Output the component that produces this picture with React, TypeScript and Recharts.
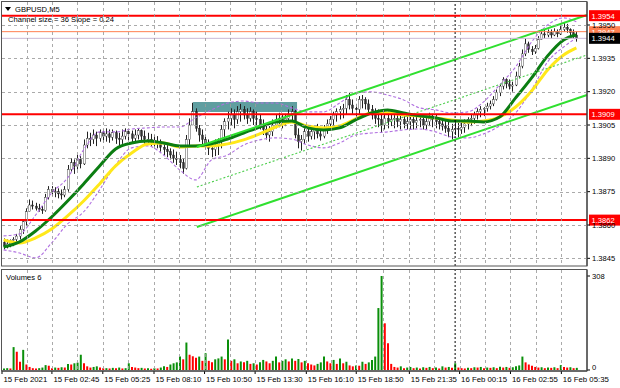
import React from 'react';
import {
  Bar,
  Cell,
  ComposedChart,
  Line,
  ReferenceArea,
  ReferenceLine,
  XAxis,
  YAxis,
} from 'recharts';

const FONT = "'Liberation Sans', Arial, sans-serif";

// GBPUSD M5, one entry per two M5 bars (10 minutes), 15 Feb 00:00 -> 16 Feb 06:00
const FIRST_OPEN = 1.3852;
const HIGHS = [
  1.3854, 1.38535, 1.38535, 1.38545, 1.3856, 1.38595, 1.38625, 1.38675, 1.38715, 1.3871, 1.387, 1.38695, 1.38685, 1.3874, 1.38775, 1.38775,
  1.3877, 1.38765, 1.3876, 1.38775, 1.3887, 1.389, 1.38895, 1.38915, 1.3891, 1.38985, 1.3902, 1.39015, 1.3903, 1.3902, 1.3903, 1.3903,
  1.39035, 1.3903, 1.3903, 1.39025, 1.39015, 1.3903, 1.39035, 1.3903, 1.39025, 1.3903, 1.39035, 1.3903, 1.39025, 1.39015, 1.3901, 1.39005,
  1.39, 1.38985, 1.3897, 1.3896, 1.38945, 1.3894, 1.3893, 1.38915, 1.389, 1.39005, 1.3908, 1.3915, 1.39125, 1.3905, 1.3903, 1.39005,
  1.38985, 1.38975, 1.38985, 1.3899, 1.3905, 1.3908, 1.3911, 1.39125, 1.3912, 1.39135, 1.39145, 1.39135, 1.39125, 1.3913, 1.3912, 1.3911,
  1.39095, 1.39075, 1.39055, 1.39045, 1.39075, 1.39095, 1.39105, 1.39095, 1.391, 1.3912, 1.39135, 1.3912, 1.39035, 1.39005, 1.39035, 1.39045,
  1.39035, 1.39045, 1.39055, 1.3904, 1.3905, 1.39075, 1.3909, 1.3911, 1.39125, 1.39135, 1.39145, 1.39185, 1.39195, 1.39165, 1.39145, 1.3918,
  1.39185, 1.39175, 1.39165, 1.3914, 1.39125, 1.3912, 1.3911, 1.3912, 1.3911, 1.3912, 1.39105, 1.3911, 1.391, 1.39105, 1.39095, 1.391,
  1.39095, 1.3909, 1.391, 1.3909, 1.39085, 1.39105, 1.391, 1.39095, 1.39085, 1.3908, 1.39075, 1.39065, 1.39055, 1.39075, 1.3906, 1.39065,
  1.39075, 1.39085, 1.391, 1.3911, 1.39125, 1.39135, 1.3913, 1.3915, 1.3916, 1.3918, 1.3921, 1.39235, 1.39265, 1.3926, 1.39255, 1.39245,
  1.3929, 1.3933, 1.3939, 1.3944, 1.39425, 1.39405, 1.3941, 1.3945, 1.3948, 1.3948, 1.3948, 1.3948, 1.39485, 1.3948, 1.39495, 1.3951,
  1.39505, 1.39485, 1.3948, 1.3947,
];
const LOWS = [
  1.3849, 1.38495, 1.385, 1.38505, 1.38515, 1.38535, 1.3856, 1.38595, 1.3866, 1.3867, 1.38665, 1.3866, 1.3865, 1.3866, 1.38715, 1.3873,
  1.38725, 1.3872, 1.38715, 1.38725, 1.3875, 1.3884, 1.3883, 1.3885, 1.38855, 1.3887, 1.38945, 1.38955, 1.38965, 1.38955, 1.38975, 1.3897,
  1.38975, 1.3897, 1.3898, 1.38965, 1.3895, 1.38965, 1.38985, 1.3898, 1.3897, 1.38975, 1.38985, 1.38975, 1.38965, 1.3896, 1.38955, 1.3895,
  1.38945, 1.3893, 1.38915, 1.38905, 1.38895, 1.3888, 1.3887, 1.38855, 1.3883, 1.3885, 1.3896, 1.3905, 1.3902, 1.38975, 1.3896, 1.3894,
  1.38915, 1.38905, 1.3891, 1.38915, 1.38945, 1.38985, 1.3903, 1.3905, 1.39035, 1.39055, 1.39065, 1.39075, 1.39055, 1.39065, 1.3905, 1.3904,
  1.3903, 1.39005, 1.38985, 1.38975, 1.39, 1.39035, 1.3904, 1.39035, 1.39045, 1.39055, 1.39065, 1.3899, 1.38945, 1.38935, 1.38965, 1.38975,
  1.38985, 1.38985, 1.3899, 1.3898, 1.3899, 1.3901, 1.3903, 1.39045, 1.39065, 1.39075, 1.3908, 1.39095, 1.3912, 1.391, 1.39085, 1.391,
  1.39125, 1.3912, 1.391, 1.39075, 1.39055, 1.3904, 1.39015, 1.3903, 1.39035, 1.39045, 1.39035, 1.3904, 1.3903, 1.39035, 1.3903, 1.3903,
  1.3903, 1.39035, 1.3904, 1.3903, 1.3903, 1.39045, 1.3904, 1.39035, 1.3903, 1.39025, 1.39015, 1.38995, 1.38985, 1.39005, 1.38995, 1.3901,
  1.39015, 1.3903, 1.39045, 1.39055, 1.39075, 1.39085, 1.3909, 1.3911, 1.3912, 1.39135, 1.3916, 1.3918, 1.3921, 1.39215, 1.3921, 1.392,
  1.39225, 1.3926, 1.39305, 1.3936, 1.39375, 1.39365, 1.3937, 1.3939, 1.39435, 1.3944, 1.39445, 1.3944, 1.3945, 1.39445, 1.39455, 1.3947,
  1.39465, 1.3945, 1.3944, 1.39425,
];
const CLOSES = [
  1.38505, 1.38515, 1.3853, 1.38535, 1.3855, 1.3858, 1.38615, 1.3866, 1.3869, 1.38685, 1.38675, 1.3867, 1.38665, 1.38725, 1.3876, 1.3875,
  1.3875, 1.3874, 1.38735, 1.3876, 1.3885, 1.3888, 1.38865, 1.38895, 1.38875, 1.3896, 1.3899, 1.38985, 1.39005, 1.3899, 1.39015, 1.39,
  1.3901, 1.38995, 1.39015, 1.3899, 1.38985, 1.39, 1.3902, 1.3901, 1.3899, 1.39005, 1.39025, 1.39, 1.38985, 1.38985, 1.3898, 1.3897,
  1.38975, 1.3895, 1.3894, 1.3893, 1.38915, 1.389, 1.38895, 1.3888, 1.38855, 1.38985, 1.3905, 1.3911, 1.39035, 1.39005, 1.38985, 1.3896,
  1.38945, 1.3894, 1.3896, 1.38975, 1.3903, 1.39065, 1.3908, 1.39095, 1.39075, 1.3911, 1.3912, 1.39095, 1.3908, 1.3911, 1.3908, 1.39075,
  1.3905, 1.3903, 1.39005, 1.3902, 1.3905, 1.39075, 1.3908, 1.39065, 1.3908, 1.391, 1.3911, 1.39005, 1.38975, 1.38985, 1.3902, 1.39,
  1.3902, 1.3903, 1.3901, 1.39, 1.39035, 1.39055, 1.39075, 1.39095, 1.3911, 1.3912, 1.39125, 1.39165, 1.3914, 1.39125, 1.3912, 1.39165,
  1.39165, 1.39145, 1.3912, 1.39095, 1.3908, 1.39075, 1.3905, 1.3908, 1.39065, 1.39075, 1.3908, 1.39065, 1.39075, 1.39055, 1.39065, 1.39075,
  1.3906, 1.3907, 1.39075, 1.3905, 1.39065, 1.3908, 1.39075, 1.39065, 1.39055, 1.39045, 1.39035, 1.3902, 1.3903, 1.39035, 1.3903, 1.3904,
  1.39055, 1.39075, 1.3908, 1.39095, 1.3911, 1.3912, 1.39125, 1.39135, 1.39145, 1.39165, 1.39195, 1.39225, 1.39255, 1.39235, 1.39225, 1.3923,
  1.3927, 1.39315, 1.3937, 1.39415, 1.3939, 1.3938, 1.39395, 1.39435, 1.3946, 1.39455, 1.39465, 1.39455, 1.3947, 1.3946, 1.3948, 1.3949,
  1.3948, 1.39465, 1.39455, 1.3944,
];
const VOLUMES = [
  5, 6, 5, 75, 60, 27, 66, 18, 10, 6, 5, 6, 8, 16, 14, 6,
  8, 7, 9, 8, 20, 18, 22, 24, 50, 22, 12, 8, 10, 12, 8, 6,
  6, 5, 7, 6, 8, 5, 6, 22, 10, 8, 6, 7, 5, 6, 4, 6,
  5, 8, 12, 10, 18, 22, 25, 44, 35, 90, 50, 45, 40, 44, 30, 55,
  30, 25, 35, 38, 44, 35, 100, 30, 35, 22, 28, 25, 30, 20, 22, 18,
  25, 33, 28, 22, 30, 44, 25, 30, 35, 28, 38, 30, 36, 25, 30, 22,
  18, 15, 20, 25, 44, 28, 22, 33, 20, 38, 22, 27, 15, 12, 15, 14,
  27, 20, 25, 33, 44, 203, 308, 153, 88, 20, 10, 8, 12, 6, 8, 10,
  6, 8, 5, 9, 7, 10, 6, 8, 5, 12, 8, 10, 7, 22, 8, 6,
  5, 7, 6, 9, 8, 10, 6, 8, 7, 9, 6, 11, 8, 10, 7, 9,
  12, 15, 44, 25, 18, 14, 10, 8, 9, 6, 8, 7, 9, 6, 16, 10,
  8, 9, 6, 7,
];

// indicator readings, taken every 5th bar
const MA_BARS = [0, 5, 10, 15, 20, 25, 30, 35, 40, 45, 50, 55, 60, 65, 70, 75, 80, 85, 90, 95, 100, 105, 110, 115, 120, 125, 130, 135, 140, 145, 150, 155, 160, 165, 170, 175, 179];
const MA_FAST = [
  1.38501, 1.38524, 1.38573, 1.38636, 1.38708, 1.38785, 1.38866, 1.38942, 1.38969, 1.38978, 1.38969, 1.38956, 1.38956, 1.38965, 1.38987, 1.39014,
  1.39041, 1.39064, 1.39068, 1.39037, 1.39028, 1.39037, 1.39073, 1.39104, 1.39118, 1.39104, 1.39091, 1.39082, 1.39068, 1.39068, 1.39064, 1.39086,
  1.39172, 1.39262, 1.39361, 1.39433, 1.39455,
];
const MA_SLOW = [
  1.38533, 1.38519, 1.38542, 1.38582, 1.38641, 1.38708, 1.38785, 1.38866, 1.38924, 1.38965, 1.38969, 1.38951, 1.38956, 1.38956, 1.38965, 1.38983,
  1.3901, 1.39041, 1.39064, 1.39046, 1.39037, 1.39046, 1.39077, 1.39104, 1.39104, 1.39095, 1.39091, 1.39082, 1.39073, 1.39064, 1.39068, 1.39086,
  1.39131, 1.39203, 1.39298, 1.39365, 1.39397,
];
const ENV_UPPER = [
  1.38551, 1.3856, 1.38645, 1.38744, 1.38812, 1.38938, 1.39019, 1.39019, 1.39032, 1.39037, 1.39041, 1.39041, 1.39082, 1.39118, 1.39149, 1.39158,
  1.39149, 1.39149, 1.39127, 1.39109, 1.39109, 1.39149, 1.39194, 1.39199, 1.39185, 1.39163, 1.39127, 1.39118, 1.39104, 1.39109, 1.39154, 1.3923,
  1.39311, 1.39424, 1.395, 1.39532, 1.39514,
];
const ENV_LOWER = [
  1.38488, 1.38474, 1.38452, 1.38519, 1.38605, 1.38659, 1.38758, 1.3887, 1.38947, 1.38956, 1.38915, 1.38848, 1.38803, 1.38893, 1.38915, 1.3896,
  1.38983, 1.38992, 1.38987, 1.3896, 1.38947, 1.38969, 1.39005, 1.39014, 1.39019, 1.39028, 1.39032, 1.39019, 1.38996, 1.38992, 1.3901, 1.39046,
  1.39104, 1.39208, 1.39334, 1.39401, 1.39442,
];

// regression channel (start bar, end bar) and its three lines (start price, end price)
const CHANNEL_BARS = [60.4, 182.3];
const CHANNEL_UPPER = [1.38951, 1.39545];
const CHANNEL_MID = [1.38771, 1.39365];
const CHANNEL_LOWER = [1.38591, 1.39185];

// consolidation box: bars and price range
const BOX_BARS = [59.2, 91.7];
const BOX_PRICES = [1.39108, 1.39154];

const LEVELS = [1.39542, 1.39098, 1.38622];
const ASK = 1.3947;
const BID = 1.3944;
const DAY_START_BAR = 141.1;

const PRICE_DOMAIN = [1.384155, 1.396035];
const PRICE_TICKS = [1.395, 1.3935, 1.392, 1.3905, 1.389, 1.3875, 1.386, 1.3845];
const VOLUME_DOMAIN = [-3.3, 327.7];
const VOLUME_TICKS = [0, 308];
const BAR_DOMAIN = [-0.5, 182.3125];

const TIME_TICK_BARS = [-0.5, 15.1, 31, 47, 62.8, 78.6, 94.6, 110.2, 126.8, 142.5, 158.4, 174.3];
const TIME_LABELS = [
  '15 Feb 2021', '15 Feb 02:45', '15 Feb 05:25', '15 Feb 08:10', '15 Feb 10:50', '15 Feb 13:30',
  '15 Feb 16:10', '15 Feb 18:50', '15 Feb 21:35', '16 Feb 00:15', '16 Feb 02:55', '16 Feb 05:35',
];

const GREEN = '#0a8f0a';
const RED = '#ff0000';
const GRID = '#9c9c9c';

// plot geometry shared by both panes
const PLOT_LEFT = 2;
const PLOT_WIDTH = 585;
const PRICE_TOP = 2;
const PRICE_HEIGHT = 264;
const VOL_PANE_TOP = 268;
const VOL_TOP = 2;
const VOL_HEIGHT = 101;

const bars = HIGHS.map((high, i) => ({
  i,
  high,
  low: LOWS[i],
  close: CLOSES[i],
  open: i === 0 ? FIRST_OPEN : CLOSES[i - 1],
  vol: VOLUMES[i],
}));

const series = (values: number[]) => MA_BARS.map((i, n) => ({ i, v: values[n] }));

// grid lines sit on the time labels and half way between them
const GRID_BARS = TIME_TICK_BARS.flatMap((t, n) =>
  n < TIME_TICK_BARS.length - 1 ? [t, (t + TIME_TICK_BARS[n + 1]) / 2] : [t],
).filter((t) => t > 0);

// same linear mapping the charts use, for the grid only
const gridX = (b: number) =>
  Math.round(PLOT_LEFT + ((b - BAR_DOMAIN[0]) / (BAR_DOMAIN[1] - BAR_DOMAIN[0])) * PLOT_WIDTH) + 0.5;
const gridY = (p: number) =>
  Math.round(PRICE_TOP + ((PRICE_DOMAIN[1] - p) / (PRICE_DOMAIN[1] - PRICE_DOMAIN[0])) * PRICE_HEIGHT) + 0.5;

const priceText = (p: number) => (Math.floor(p * 10000 + 1e-6) / 10000).toFixed(4);

function Candle(props: any) {
  const { x, y, width, height, payload } = props;
  const { open, close, high, low } = payload;
  const cx = Math.round(x + width / 2) + 0.5;
  const k = high > low ? height / (high - low) : 0;
  const yOf = (p: number) => y + (high - p) * k;
  const top = yOf(Math.max(open, close));
  const bot = yOf(Math.min(open, close));
  const up = close >= open;
  return (
    <g>
      <line x1={cx} x2={cx} y1={Math.min(y, top)} y2={Math.max(y + height, bot)} stroke="#222" strokeWidth={1} />
      <rect
        x={cx - 1}
        y={top}
        width={2}
        height={Math.max(bot - top, 0.8)}
        fill={up ? '#ffffff' : '#333333'}
        stroke="#222"
        strokeWidth={0.4}
      />
    </g>
  );
}

const badge = (text: string, bg: string, fg = '#fff') => (props: any) => {
  const vb = props.viewBox || {};
  const x = (vb.x ?? 0) + (vb.width ?? 0) + 2;
  const y = vb.y ?? 0;
  return (
    <g>
      <rect x={x} y={y - 5.5} width={31} height={11} fill={bg} />
      <text x={x + 2.5} y={y + 3} fill={fg} fontSize={7.6} fontFamily={FONT}>
        {text}
      </text>
    </g>
  );
};

function TimeTick(props: any) {
  const { x, y, payload } = props;
  const n = TIME_TICK_BARS.indexOf(payload.value);
  return (
    <text x={x + 1.5} y={y} dy="0.72em" fontSize={7.8} fontFamily={FONT} fill="#000">
      {TIME_LABELS[n]}
    </text>
  );
}

function VolumeTick(props: any) {
  const { x, y, payload } = props;
  // MT4 lifts the zero label a little above the baseline
  const dy = payload.value === 0 ? -3 : 0;
  return (
    <text x={x} y={y + dy} dy="0.35em" fontSize={7.6} fontFamily={FONT} fill="#000">
      {payload.value}
    </text>
  );
}

const axisTick = { fill: '#000', fontSize: 7.6, fontFamily: FONT };

function GridLines() {
  const volTop = VOL_PANE_TOP + VOL_TOP;
  return (
    <g stroke={GRID} strokeWidth={1} strokeDasharray="3 3" shapeRendering="crispEdges" opacity={0.85}>
      {PRICE_TICKS.map((p) => (
        <line key={`h${p}`} x1={PLOT_LEFT} x2={PLOT_LEFT + PLOT_WIDTH} y1={gridY(p)} y2={gridY(p)} />
      ))}
      {GRID_BARS.map((b) => (
        <line key={`p${b}`} x1={gridX(b)} x2={gridX(b)} y1={PRICE_TOP} y2={PRICE_TOP + PRICE_HEIGHT} />
      ))}
      {GRID_BARS.map((b) => (
        <line key={`v${b}`} x1={gridX(b)} x2={gridX(b)} y1={volTop} y2={volTop + VOL_HEIGHT} />
      ))}
    </g>
  );
}

function PricePane() {
  return (
    <ComposedChart
      width={620}
      height={268}
      data={bars}
      margin={{ top: PRICE_TOP, right: 0, bottom: 268 - PRICE_TOP - PRICE_HEIGHT, left: PLOT_LEFT }}
    >
      <XAxis type="number" dataKey="i" domain={BAR_DOMAIN} allowDataOverflow hide />
      <YAxis
        orientation="right"
        type="number"
        domain={PRICE_DOMAIN}
        allowDataOverflow
        ticks={PRICE_TICKS}
        interval={0}
        width={620 - PLOT_LEFT - PLOT_WIDTH}
        tickSize={3}
        tickMargin={2}
        tick={axisTick}
        tickFormatter={(v: number) => v.toFixed(4)}
        axisLine={{ stroke: '#000' }}
        tickLine={{ stroke: '#000' }}
      />
      <ReferenceArea
        x1={BOX_BARS[0]}
        x2={BOX_BARS[1]}
        y1={BOX_PRICES[0]}
        y2={BOX_PRICES[1]}
        fill="#5f9ea0"
        fillOpacity={1}
        stroke="none"
      />
      <Bar dataKey={(d: any) => [d.low, d.high]} barSize={3} shape={Candle} isAnimationActive={false} />
      <Line data={series(ENV_UPPER)} dataKey="v" type="monotone" stroke="#b070e0" strokeWidth={1.1} strokeDasharray="3 2" dot={false} activeDot={false} isAnimationActive={false} />
      <Line data={series(ENV_LOWER)} dataKey="v" type="monotone" stroke="#b070e0" strokeWidth={1.1} strokeDasharray="3 2" dot={false} activeDot={false} isAnimationActive={false} />
      <Line data={series(MA_SLOW)} dataKey="v" type="monotone" stroke="#ffe81a" strokeWidth={3} dot={false} activeDot={false} isAnimationActive={false} />
      <Line data={series(MA_FAST)} dataKey="v" type="monotone" stroke="#0b7d12" strokeWidth={3} dot={false} activeDot={false} isAnimationActive={false} />
      <ReferenceLine
        segment={[{ x: CHANNEL_BARS[0], y: CHANNEL_MID[0] }, { x: CHANNEL_BARS[1], y: CHANNEL_MID[1] }]}
        stroke="#4ccf4c"
        strokeWidth={1.1}
        strokeDasharray="2 2"
      />
      <ReferenceLine
        segment={[{ x: CHANNEL_BARS[0], y: CHANNEL_UPPER[0] }, { x: CHANNEL_BARS[1], y: CHANNEL_UPPER[1] }]}
        stroke="#2fe02f"
        strokeWidth={2}
      />
      <ReferenceLine
        segment={[{ x: CHANNEL_BARS[0], y: CHANNEL_LOWER[0] }, { x: CHANNEL_BARS[1], y: CHANNEL_LOWER[1] }]}
        stroke="#2fe02f"
        strokeWidth={2}
      />
      <ReferenceLine x={DAY_START_BAR} stroke="#000" strokeDasharray="2 2" />
      {LEVELS.map((p) => (
        <ReferenceLine key={p} y={p} stroke={RED} strokeWidth={2} label={badge(priceText(p), RED)} />
      ))}
      <ReferenceLine y={ASK} stroke="#ff7f50" strokeWidth={1} label={badge(priceText(ASK), '#ff7f50')} />
      <ReferenceLine y={BID} stroke="#c9b8d6" strokeWidth={1} label={badge(priceText(BID), '#000')} />
    </ComposedChart>
  );
}

function VolumePane() {
  return (
    <ComposedChart width={620} height={120} data={bars} margin={{ top: VOL_TOP, right: 0, bottom: 0, left: PLOT_LEFT }}>
      <XAxis
        type="number"
        dataKey="i"
        domain={BAR_DOMAIN}
        allowDataOverflow
        ticks={TIME_TICK_BARS}
        interval={0}
        height={120 - VOL_TOP - VOL_HEIGHT}
        tickSize={3}
        tickMargin={2}
        tick={<TimeTick />}
        axisLine={{ stroke: '#000' }}
        tickLine={{ stroke: '#000' }}
      />
      <YAxis
        orientation="right"
        type="number"
        domain={VOLUME_DOMAIN}
        allowDataOverflow
        ticks={VOLUME_TICKS}
        interval={0}
        width={620 - PLOT_LEFT - PLOT_WIDTH}
        tickSize={3}
        tickMargin={2}
        tick={<VolumeTick />}
        axisLine={{ stroke: '#000' }}
        tickLine={{ stroke: '#000' }}
      />
      <ReferenceLine x={DAY_START_BAR} stroke="#000" strokeDasharray="2 2" />
      <Bar dataKey="vol" barSize={2} isAnimationActive={false}>
        {bars.map((d, n) => (
          <Cell key={d.i} fill={n > 0 && VOLUMES[n] < VOLUMES[n - 1] ? RED : GREEN} />
        ))}
      </Bar>
    </ComposedChart>
  );
}

export default function App() {
  return (
    <div style={{ position: 'relative', width: 620, height: 388, background: '#fff', overflow: 'hidden' }}>
      <style>{'body{margin:0;background:#fff}'}</style>
      <div style={{ position: 'absolute', left: 0, top: 0 }}>
        <PricePane />
      </div>
      <div style={{ position: 'absolute', left: 0, top: VOL_PANE_TOP }}>
        <VolumePane />
      </div>
      <svg width={620} height={388} style={{ position: 'absolute', left: 0, top: 0, pointerEvents: 'none' }}>
        <GridLines />
        <rect x={1.5} y={1.5} width={585.5} height={264.5} fill="none" stroke="#555" />
        <rect x={1.5} y={269.5} width={585.5} height={101.5} fill="none" stroke="#555" />
        <polygon points="5,7 11,7 8,11" fill="#000" />
        <text x={15} y={11.5} fontSize={7.6} fontFamily={FONT} fill="#000">GBPUSD,M5</text>
        <text x={8} y={21.5} fontSize={7.6} fontFamily={FONT} fill="#000">Channel size = 36 Slope = 0.24</text>
        <text x={6} y={280} fontSize={7.6} fontFamily={FONT} fill="#000">Volumes 6</text>
      </svg>
    </div>
  );
}
